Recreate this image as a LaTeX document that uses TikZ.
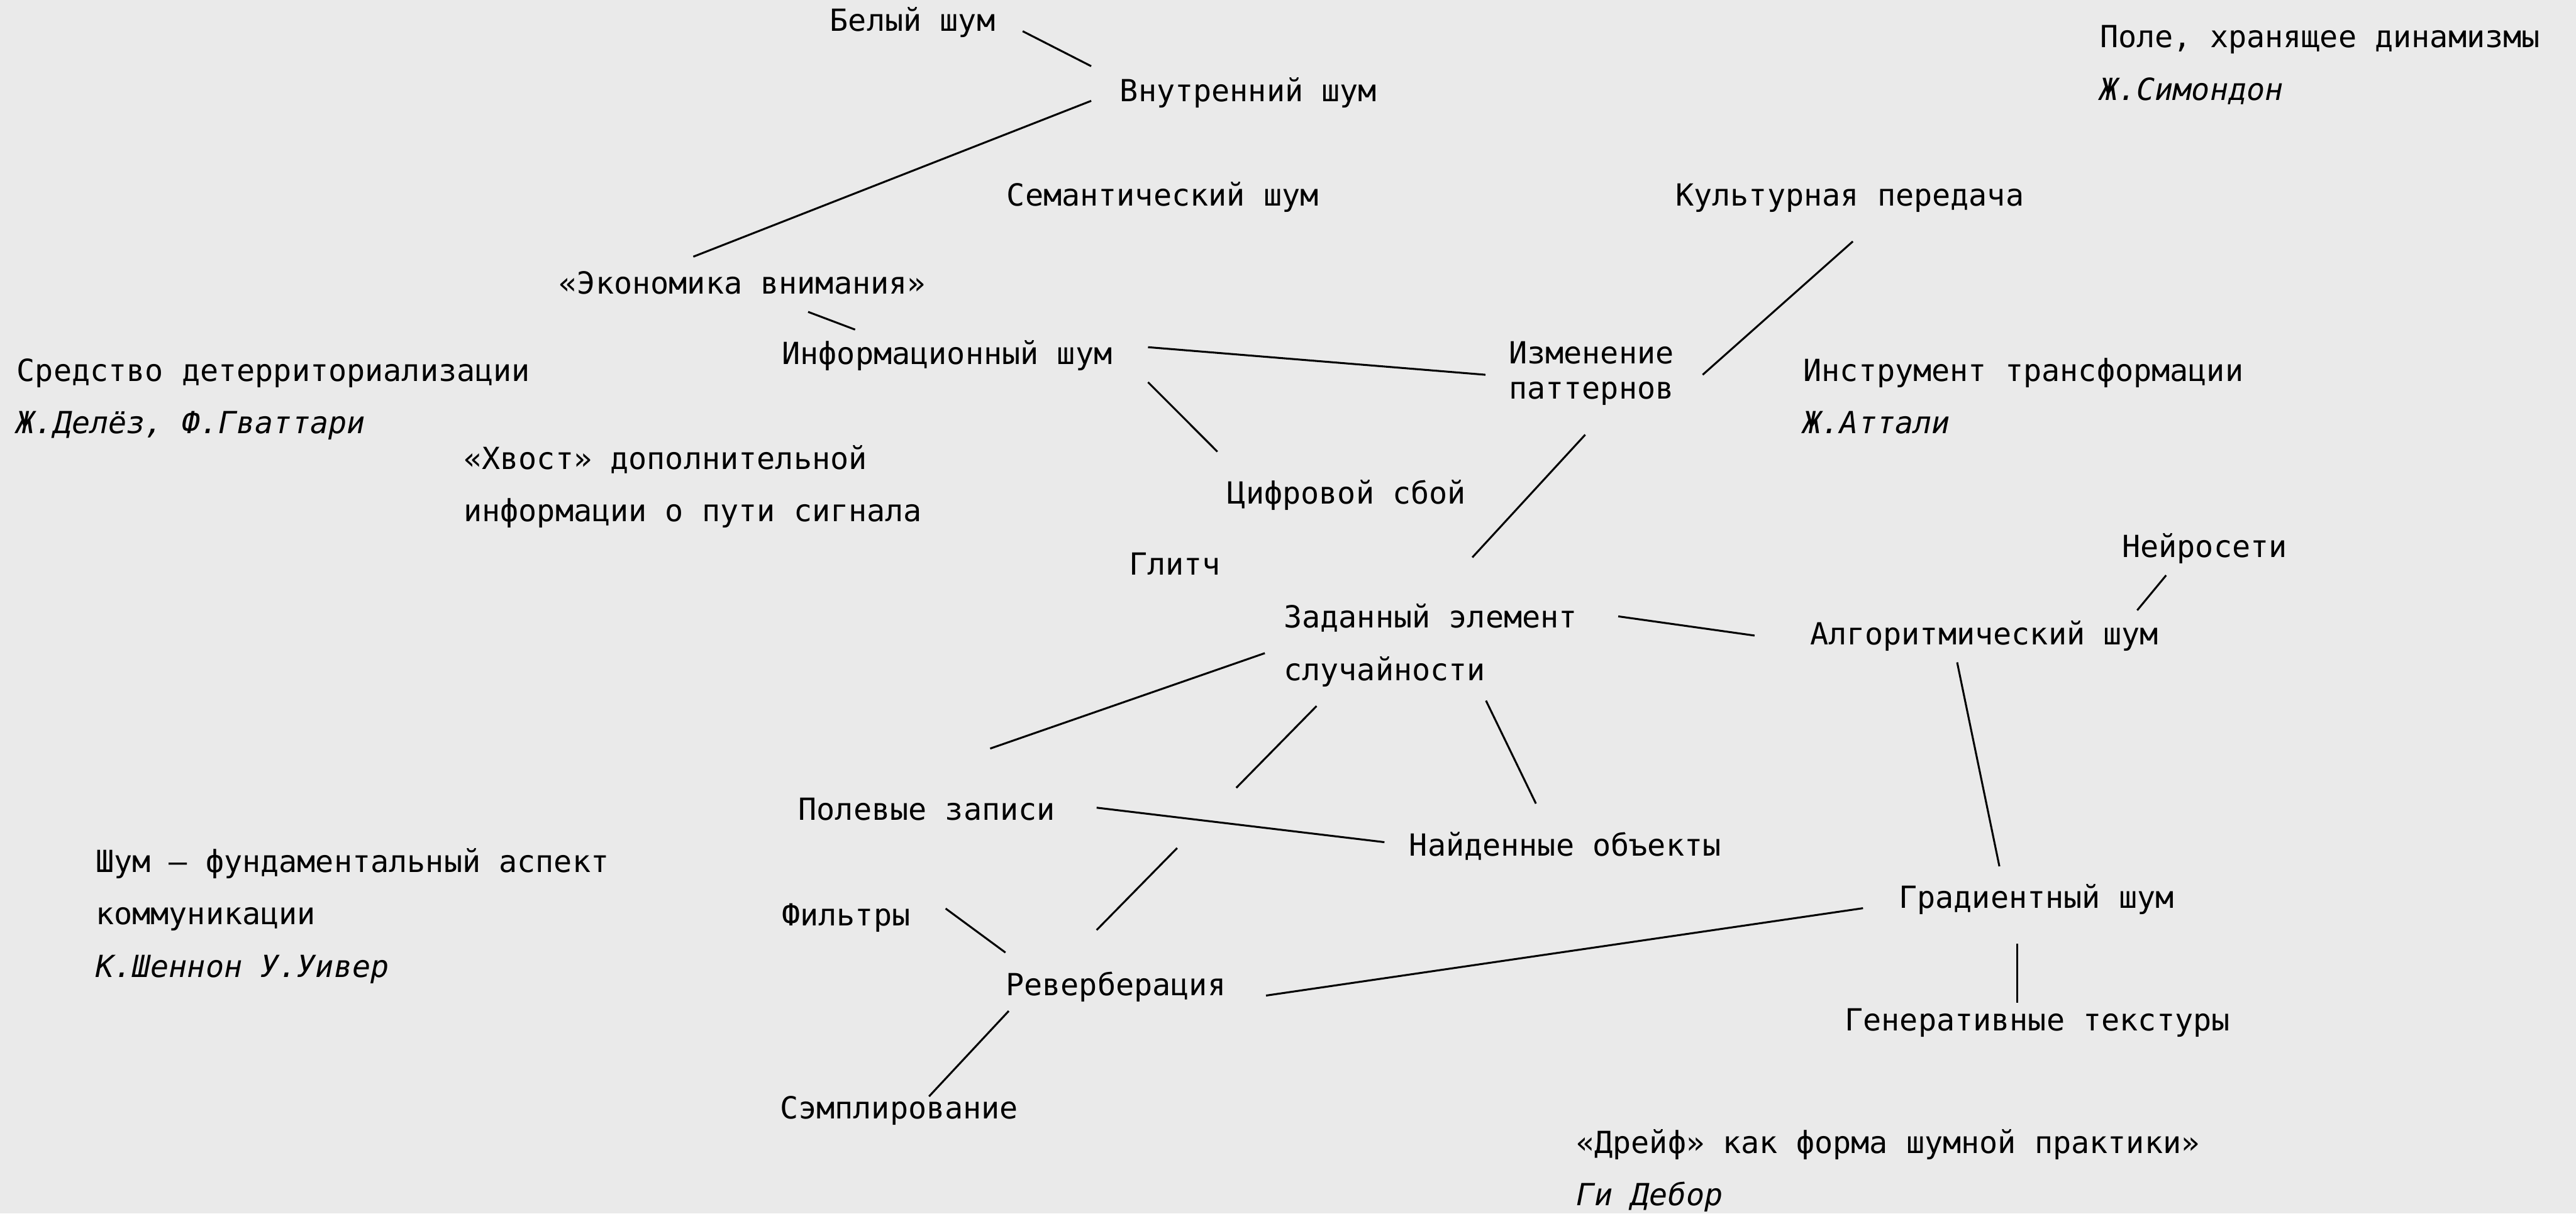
\documentclass[tikz,border=0pt]{standalone}
\usepackage{fontspec}
\setmonofont{DejaVu Sans Mono}
\usetikzlibrary{calc}
\definecolor{paper}{RGB}{234,234,234}
\tikzset{
  lbl/.style={anchor=base west, inner sep=0pt, font=\ttfamily\fontsize{15.8}{19}\selectfont},
  author/.style={lbl, font=\ttfamily\itshape\fontsize{15.8}{19}\selectfont},
  link/.style={line width=1pt}
}
\begin{document}
\begin{tikzpicture}[x=0.02995cm, y=-0.02995cm]
\fill[paper] (0,0) rectangle (1568,739);

% notes and quotes
\node[lbl] (pole) at (1278,29) {Поле, хранящее динамизмы};
\node[author] (simond) at (1278,61) {Ж.Симондон};
\node[lbl] (sredstvo) at (10,232) {Средство детерриториализации};
\node[author] (delez) at (10,264) {Ж.Делёз, Ф.Гваттари};
\node[lbl] (instr) at (1097.5,232) {Инструмент трансформации};
\node[author] (attali) at (1097.5,264) {Ж.Аттали};
\node[lbl] (hvost) at (282,285.7) {«Хвост» дополнительной};
\node[lbl] (hvostB) at (282,317.6) {информации о пути сигнала};
\node[lbl] (shum) at (58,531) {Шум — фундаментальный аспект};
\node[lbl] (shumB) at (58,563) {коммуникации};
\node[author] (shennon) at (58,595) {К.Шеннон У.Уивер};
\node[lbl] (dreif) at (959.2,702.2) {«Дрейф» как форма шумной практики»};
\node[author] (debor) at (959.2,734) {Ги Дебор};

% terms
\node[lbl] (belyj) at (505,19) {Белый шум};
\node[lbl] (vnutr) at (681.5,62) {Внутренний шум};
\node[lbl] (semant) at (612.6,125.2) {Семантический шум};
\node[lbl] (kult) at (1019.7,125.5) {Культурная передача};
\node[lbl] (ekon) at (340,179) {«Экономика внимания»};
\node[lbl] (inform) at (475.8,222) {Информационный шум};
\node[lbl] (izmen) at (918.2,221.5) {Изменение};
\node[lbl] (izmenB) at (918.2,243) {паттернов};
\node[lbl] (cifr) at (747,307) {Цифровой сбой};
\node[lbl] (glitch) at (687,350) {Глитч};
\node[lbl] (neiro) at (1291.5,339.4) {Нейросети};
\node[lbl] (zadan) at (781.2,382.3) {Заданный элемент};
\node[lbl] (zadanB) at (781.2,414.4) {случайности};
\node[lbl] (algo) at (1101.5,392.5) {Алгоритмический шум};
\node[lbl] (polev) at (485.8,499.2) {Полевые записи};
\node[lbl] (naiden) at (857.6,521) {Найденные объекты};
\node[lbl] (grad) at (1155.6,553) {Градиентный шум};
\node[lbl] (filtr) at (475.7,563.6) {Фильтры};
\node[lbl] (reverb) at (612,606.2) {Реверберация};
\node[lbl] (gener) at (1122.7,627.7) {Генеративные текстуры};
\node[lbl] (sempl) at (474.5,681.2) {Сэмплирование};

% links
\draw[link] ($(belyj.base west)+(117.5,0)$) -- ($(vnutr.base west)+(-17.3,-21.7)$);
\draw[link] ($(vnutr.base west)+(-17.3,-0.6)$) -- ($(ekon.base west)+(82,-22.7)$);
\draw[link] ($(ekon.base west)+(151.9,10.9)$) -- ($(inform.base west)+(44.7,-21.3)$);
\draw[link] ($(inform.base west)+(223,-10.6)$) -- ($(izmen.base west)+(-14,6.7)$);
\draw[link] ($(inform.base west)+(223,10.7)$) -- ($(cifr.base west)+(-6,-32)$);
\draw[link] ($(kult.base west)+(108.1,21.5)$) -- ($(izmen.base west)+(118.2,6.7)$);
\draw[link] ($(izmenB.base west)+(46.7,21.7)$) -- ($(zadan.base west)+(115,-42.9)$);
\draw[link] ($(zadan.base west)+(203.8,-7)$) -- ($(algo.base west)+(-33.5,-5.5)$);
\draw[link] ($(neiro.base west)+(27,10.9)$) -- ($(algo.base west)+(199.4,-20.9)$);
\draw[link] ($(algo.base west)+(89.8,10.8)$) -- ($(grad.base west)+(61.4,-25.5)$);
\draw[link] ($(zadanB.base west)+(-11.3,-16.7)$) -- ($(polev.base west)+(116.9,-43.4)$);
\coordinate (zr1) at ($(zadanB.base west)+(20.2,15.5)$);
\coordinate (zr2) at ($(reverb.base west)+(55.5,-39.9)$);
\draw[link] (zr1) -- ($(zr1)!0.365!(zr2)$);
\draw[link] ($(zr1)!0.634!(zr2)$) -- (zr2);
\draw[link] ($(zadanB.base west)+(123.3,12.2)$) -- ($(naiden.base west)+(77.3,-31.7)$);
\draw[link] ($(polev.base west)+(181.7,-7.4)$) -- ($(naiden.base west)+(-14.9,-8.2)$);
\draw[link] ($(filtr.base west)+(99.9,-10.4)$) -- ($(reverb.base west)+(0,-26.2)$);
\draw[link] ($(reverb.base west)+(2,9.4)$) -- ($(sempl.base west)+(91,-13.6)$);
\draw[link] ($(reverb.base west)+(158.6,0)$) -- ($(grad.base west)+(-21.6,0)$);
\draw[link] ($(grad.base west)+(72.4,21.7)$) -- ($(gener.base west)+(105.3,-17.3)$);
\end{tikzpicture}
\end{document}
